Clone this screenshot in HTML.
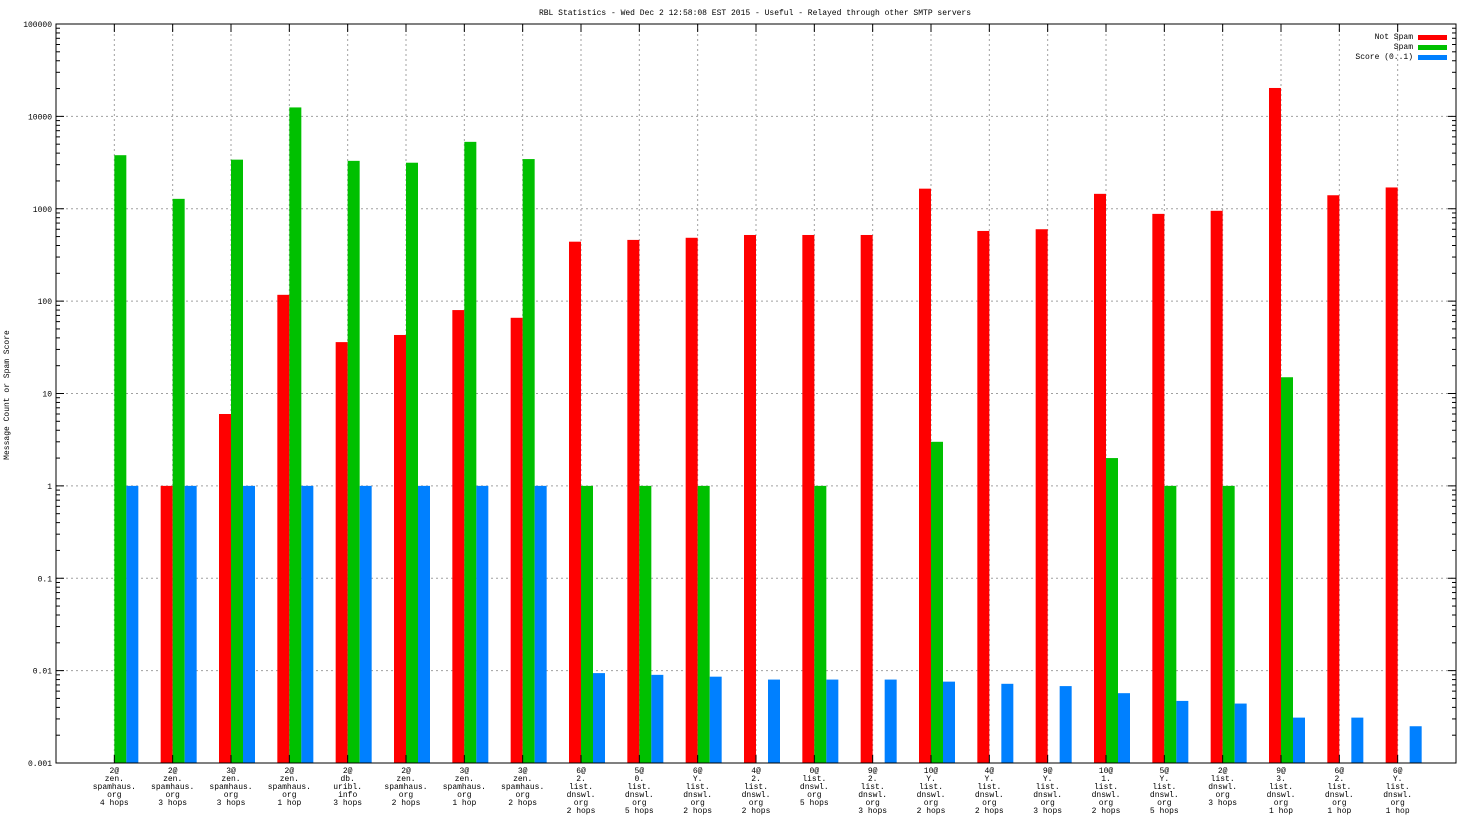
<!DOCTYPE html>
<html><head><meta charset="utf-8"><style>
body{margin:0;background:#fff;}
svg text{font-family:"Liberation Mono",monospace;font-size:8px;fill:#000;}
</style></head><body>
<svg id="chart" width="1472" height="828" xmlns="http://www.w3.org/2000/svg">
<rect width="1472" height="828" fill="#fff"/>
<text x="755" y="15" text-anchor="middle">RBL Statistics - Wed Dec  2 12:58:08 EST 2015 - Useful - Relayed through other SMTP servers</text>
<text transform="translate(9,395) rotate(-90)" text-anchor="middle">Message Count or Spam Score</text>
<g id="grid"></g><g id="bars"></g><g id="axes"></g>
<g>
<text x="1413" y="39" text-anchor="end">Not Spam</text>
<rect x="1418" y="35" width="29" height="5" fill="#ff0000"/>
<text x="1413" y="49" text-anchor="end">Spam</text>
<rect x="1418" y="45" width="29" height="5" fill="#00c000"/>
<text x="1413" y="59" text-anchor="end">Score (0..1)</text>
<rect x="1418" y="55" width="29" height="5" fill="#0080ff"/>
</g>
</svg>
<script>
const categories=[
["2@","zen.","spamhaus.","org","4 hops"],["2@","zen.","spamhaus.","org","3 hops"],["3@","zen.","spamhaus.","org","3 hops"],["2@","zen.","spamhaus.","org","1 hop"],["2@","db.","uribl.","info","3 hops"],["2@","zen.","spamhaus.","org","2 hops"],["3@","zen.","spamhaus.","org","1 hop"],["3@","zen.","spamhaus.","org","2 hops"],
["6@","2.","list.","dnswl.","org","2 hops"],["5@","0.","list.","dnswl.","org","5 hops"],["6@","Y.","list.","dnswl.","org","2 hops"],["4@","2.","list.","dnswl.","org","2 hops"],["0@","list.","dnswl.","org","5 hops"],["9@","2.","list.","dnswl.","org","3 hops"],["10@","Y.","list.","dnswl.","org","2 hops"],["4@","Y.","list.","dnswl.","org","2 hops"],["9@","Y.","list.","dnswl.","org","3 hops"],["10@","1.","list.","dnswl.","org","2 hops"],["5@","Y.","list.","dnswl.","org","5 hops"],["2@","list.","dnswl.","org","3 hops"],["9@","3.","list.","dnswl.","org","1 hop"],["6@","2.","list.","dnswl.","org","1 hop"],["6@","Y.","list.","dnswl.","org","1 hop"]];
const notSpam=[null,1,6,117,36,43,80,66,440,460,485,520,520,520,1650,575,600,1450,880,950,20300,1400,1700];
const spam=[3800,1280,3400,12500,3300,3150,5300,3450,1,1,1,null,1,null,3,null,null,2,1,1,15,null,null];
const score=[1,1,1,1,1,1,1,1,0.0094,0.009,0.0086,0.008,0.008,0.008,0.0076,0.0072,0.0068,0.0057,0.0047,0.0044,0.0031,0.0031,0.0025];
const yTicks=[0.001,0.01,0.1,1,10,100,1000,10000,100000];
const yTickLabels=["0.001","0.01","0.1","1","10","100","1000","10000","100000"];

const L=56,R=1456,T=24,B=763,NS="http://www.w3.org/2000/svg";
const yMin=-3,yMax=5;
function y(v){return B-(Math.log10(v)-yMin)/(yMax-yMin)*(B-T);}
const step=(R-L)/(categories.length+1);
function x(i){return L+step*(i+1);}
function mk(tag,attrs,parent){const e=document.createElementNS(NS,tag);for(const k in attrs)e.setAttribute(k,attrs[k]);parent.appendChild(e);return e;}
const grid=document.getElementById('grid'),bars=document.getElementById('bars'),axes=document.getElementById('axes');
yTicks.forEach((v,i)=>{
  const yy=y(v);
  if(i>0&&i<yTicks.length-1){const g=mk('line',{x1:L,x2:R,y1:yy,y2:yy,stroke:'#a0a0a0','stroke-dasharray':'2,3'},grid);
  
  }
  const t=mk('text',{x:L-4,y:yy+3,'text-anchor':'end'},axes);t.textContent=yTickLabels[i];
  
  
  mk('line',{x1:L,x2:L+8,y1:yy,y2:yy,stroke:'#000'},axes);mk('line',{x1:R,x2:R-8,y1:yy,y2:yy,stroke:'#000'},axes);
  if(i<yTicks.length-1)for(let k=2;k<10;k++){const my=y(v*k);mk('line',{x1:L,x2:L+4,y1:my,y2:my,stroke:'#000'},axes);mk('line',{x1:R,x2:R-4,y1:my,y2:my,stroke:'#000'},axes);}
});
const series=[[notSpam,'#ff0000',-12,'bar-not-spam'],[spam,'#00c000',0,'bar-spam'],[score,'#0080ff',12,'bar-score']];
categories.forEach((c,i)=>{
  const cx=x(i);
  const g=mk('line',{x1:cx,x2:cx,y1:T,y2:B,stroke:'#a0a0a0','stroke-dasharray':'2,3'},grid);
  
  
  mk('line',{x1:cx,x2:cx,y1:B,y2:B-8,stroke:'#000'},axes);mk('line',{x1:cx,x2:cx,y1:T,y2:T+8,stroke:'#000'},axes);
  series.forEach(([arr,col,off,name])=>{
    const v=arr[i];if(v==null)return;
    const top=y(v);
    const r=mk('rect',{x:cx+off,y:top,width:12,height:B-top,fill:col},bars);
    
    
  });
  const t=mk('text',{'text-anchor':'middle'},axes);
  
  
  c.forEach((ln,j)=>{const s=mk('tspan',{x:cx,y:B+10+j*8},t);s.textContent=ln;});
});
const fr=mk('rect',{x:L,y:T,width:R-L,height:B-T,fill:'none',stroke:'#000'},axes);


</script>
</body></html>
